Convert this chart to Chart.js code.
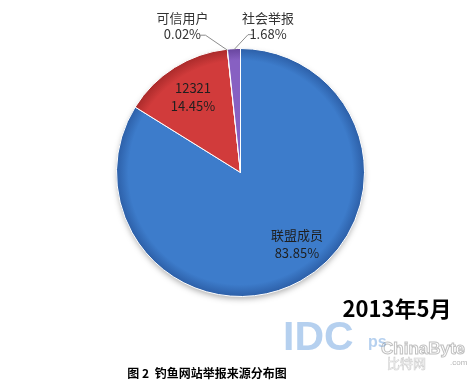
<!DOCTYPE html>
<html><head><meta charset="utf-8">
<script src="https://cdn.jsdelivr.net/npm/chart.js@4"></script>
<style>html,body{margin:0;padding:0;background:#fff}canvas{display:block}</style>
</head><body>
<canvas id="c" width="475" height="391"></canvas>
<script>
const categories = ['联盟成员', '12321', '可信用户', '社会举报'];
const values = [83.85, 14.45, 0.02, 1.68];
const percentLabels = ['83.85%', '14.45%', '0.02%', '1.68%'];
const colors = ['#3d7ccb', '#d13b3b', '#98b954', '#8760c2'];
const edgeColors = ['#2c5ea6', '#a82a2a', '#6f8a3a', '#66449c'];
const chartTitle = '图 2  钓鱼网站举报来源分布图';
const dateText = '2013年5月';

const FONT = '"Noto Sans CJK SC", "Noto Sans", sans-serif';

const labelPlugin = {
  id: 'labels',
  beforeDatasetsDraw(chart) {
    const meta = chart.getDatasetMeta(0);
    const a = meta.data[0];
    const ctx = chart.ctx;
    ctx.save();
    ctx.shadowColor = 'rgba(0,0,0,0.35)';
    ctx.shadowBlur = 6;
    ctx.shadowOffsetY = 3;
    ctx.fillStyle = '#fff';
    ctx.beginPath();
    ctx.arc(a.x, a.y, a.outerRadius - 1, 0, Math.PI * 2);
    ctx.fill();
    ctx.restore();
  },
  afterDraw(chart) {
    const ctx = chart.ctx;
    const meta = chart.getDatasetMeta(0);
    ctx.save();
    ctx.font = '13px ' + FONT;
    ctx.textAlign = 'center';
    ctx.textBaseline = 'middle';
    // inside labels for big slices
    const inside = [{i: 0, sx: 13, sy: -6}, {i: 1, sx: 0, sy: 0}];
    inside.forEach(o => {
      const arc = meta.data[o.i];
      const mid = (arc.startAngle + arc.endAngle) / 2;
      const r = arc.outerRadius * 0.72;
      const x = arc.x + Math.cos(mid) * r + o.sx;
      const y = arc.y + Math.sin(mid) * r + o.sy;
      ctx.fillStyle = '#1f1f1f';
      ctx.fillText(categories[o.i], x, y - 9);
      ctx.fillText(percentLabels[o.i], x, y + 9);
    });
    // outside labels with leader lines
    const outside = [{i: 2, dx: -22, dy: -15, dir: -1}, {i: 3, dx: 14, dy: -15, dir: 1}];
    outside.forEach(o => {
      const arc = meta.data[o.i];
      const mid = (arc.startAngle + arc.endAngle) / 2;
      const ex = arc.x + Math.cos(mid) * (arc.outerRadius - 1);
      const ey = arc.y + Math.sin(mid) * (arc.outerRadius - 1);
      const kx = ex + o.dx, ky = ey + o.dy;
      const hx = kx + o.dir * 5;
      ctx.strokeStyle = '#8c8c8c';
      ctx.lineWidth = 1;
      ctx.beginPath();
      ctx.moveTo(ex, ey);
      ctx.lineTo(kx, ky);
      ctx.lineTo(hx, ky);
      ctx.stroke();
      ctx.fillStyle = '#333';
      const cx = o.dir < 0 ? hx - 18 : hx + 15;
      ctx.fillText(categories[o.i], cx, ky - 17);
      ctx.fillText(percentLabels[o.i], cx, ky - 1);
    });
    // date text
    ctx.fillStyle = '#000';
    ctx.font = 'bold 22px ' + FONT;
    ctx.fillText(dateText, 397, 309);
    // watermark
    ctx.font = 'bold 41px "Liberation Sans", sans-serif';
    ctx.fillStyle = 'rgba(120,170,225,0.55)';
    ctx.textAlign = 'left';
    ctx.fillText('IDC', 283, 339);
    ctx.font = 'bold 16px "Liberation Sans", sans-serif';
    ctx.fillText('ps', 368, 343);
    ctx.font = 'bold 17px "Liberation Sans", sans-serif';
    ctx.strokeStyle = 'rgba(150,150,150,0.6)';
    ctx.lineWidth = 1;
    ctx.strokeText('ChinaByte', 381, 349);
    ctx.font = '13px ' + FONT;
    ctx.lineWidth = 0.6;
    ctx.strokeStyle = 'rgba(160,160,160,0.5)';
    ctx.strokeText('比特网', 387, 363);
    ctx.font = '8px "Liberation Sans", sans-serif';
    ctx.fillStyle = 'rgba(150,150,150,0.7)';
    ctx.fillText('.com', 450, 363);
    // caption
    ctx.fillStyle = '#000';
    ctx.textAlign = 'center';
    ctx.font = 'bold 12px ' + FONT;
    ctx.fillText(chartTitle, 207, 373);
    ctx.restore();
  }
};

function fillFor(ctx) {
  const chart = ctx.chart;
  const i = ctx.dataIndex;
  const area = chart.chartArea;
  if (!area) return colors[i];
  const cx = (area.left + area.right) / 2, cy = (area.top + area.bottom) / 2;
  const r = Math.min(area.right - area.left, area.bottom - area.top) / 2;
  const g = chart.ctx.createRadialGradient(cx, cy, 0, cx, cy, r);
  g.addColorStop(0, colors[i]);
  g.addColorStop(0.9, colors[i]);
  g.addColorStop(1, edgeColors[i]);
  return g;
}

new Chart(document.getElementById('c'), {
  type: 'pie',
  data: {
    labels: categories,
    datasets: [{
      data: values,
      backgroundColor: fillFor,
      borderColor: '#ffffff',
      borderWidth: 1
    }]
  },
  options: {
    responsive: false,
    animation: false,
    layout: { padding: { top: 48, bottom: 94, left: 116, right: 110 } },
    plugins: { legend: { display: false }, tooltip: { enabled: false } }
  },
  plugins: [labelPlugin]
});
</script>
</body></html>
